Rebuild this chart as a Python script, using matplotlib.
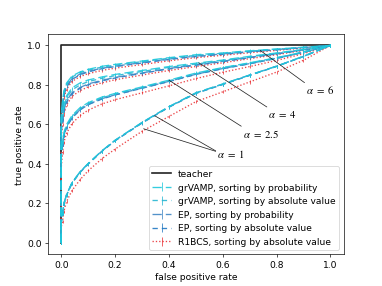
import numpy as np
import matplotlib.pyplot as plt

plt.rcParams['mathtext.fontset'] = 'stix'
plt.rcParams['font.size'] = 11

# false positive rate grid shared by all curves
fpr = [0, 0, 0.005, 0.01, 0.02, 0.04, 0.07, 0.1, 0.15, 0.2, 0.3, 0.4, 0.5, 0.6, 0.7, 0.8, 0.9, 1.0]

teacher_fpr = [0, 0, 1]
teacher_tpr = [0, 1, 1]

# alpha = 6
grvamp_prob_6 = [0, 0.65, 0.72, 0.77, 0.81, 0.845, 0.866, 0.879, 0.894, 0.904, 0.921, 0.938, 0.953, 0.962, 0.973, 0.982, 0.991, 1]
grvamp_abs_6  = [0, 0.64, 0.71, 0.765, 0.805, 0.84, 0.862, 0.875, 0.89, 0.9, 0.918, 0.935, 0.95, 0.96, 0.971, 0.981, 0.99, 1]
ep_prob_6     = [0, 0.63, 0.7, 0.755, 0.795, 0.832, 0.855, 0.869, 0.884, 0.895, 0.913, 0.931, 0.946, 0.957, 0.969, 0.979, 0.989, 1]
ep_abs_6      = [0, 0.62, 0.695, 0.75, 0.79, 0.828, 0.851, 0.866, 0.882, 0.893, 0.911, 0.929, 0.944, 0.955, 0.967, 0.978, 0.989, 1]
r1bcs_6       = [0, 0.6, 0.68, 0.735, 0.778, 0.818, 0.842, 0.857, 0.873, 0.885, 0.903, 0.922, 0.938, 0.95, 0.963, 0.975, 0.987, 1]

# alpha = 4
grvamp_prob_4 = [0, 0.6, 0.66, 0.7, 0.745, 0.785, 0.81, 0.825, 0.84, 0.853, 0.873, 0.893, 0.91, 0.926, 0.945, 0.962, 0.98, 1]
grvamp_abs_4  = [0, 0.59, 0.65, 0.69, 0.735, 0.775, 0.8, 0.817, 0.833, 0.847, 0.868, 0.889, 0.906, 0.923, 0.942, 0.96, 0.979, 1]
ep_prob_4     = [0, 0.57, 0.63, 0.675, 0.72, 0.76, 0.787, 0.805, 0.823, 0.838, 0.861, 0.883, 0.902, 0.92, 0.94, 0.958, 0.978, 1]
ep_abs_4      = [0, 0.56, 0.62, 0.668, 0.714, 0.755, 0.783, 0.801, 0.82, 0.835, 0.859, 0.881, 0.9, 0.918, 0.938, 0.957, 0.977, 1]
r1bcs_4       = [0, 0.53, 0.6, 0.65, 0.698, 0.742, 0.771, 0.79, 0.81, 0.826, 0.85, 0.873, 0.893, 0.912, 0.933, 0.953, 0.975, 1]

# alpha = 2.5
grvamp_prob_25 = [0, 0.45, 0.52, 0.56, 0.6, 0.645, 0.685, 0.71, 0.738, 0.757, 0.79, 0.824, 0.86, 0.888, 0.912, 0.938, 0.967, 1]
grvamp_abs_25  = [0, 0.44, 0.51, 0.552, 0.594, 0.64, 0.68, 0.706, 0.734, 0.754, 0.787, 0.821, 0.857, 0.886, 0.91, 0.937, 0.966, 1]
ep_prob_25     = [0, 0.43, 0.5, 0.545, 0.588, 0.634, 0.675, 0.701, 0.73, 0.75, 0.784, 0.818, 0.854, 0.883, 0.908, 0.935, 0.965, 1]
ep_abs_25      = [0, 0.43, 0.5, 0.543, 0.586, 0.632, 0.673, 0.7, 0.728, 0.749, 0.783, 0.817, 0.853, 0.882, 0.907, 0.934, 0.965, 1]
r1bcs_25       = [0, 0.38, 0.46, 0.51, 0.556, 0.604, 0.645, 0.672, 0.703, 0.725, 0.76, 0.795, 0.832, 0.864, 0.893, 0.924, 0.958, 1]

# alpha = 1
grvamp_prob_1 = [0, 0.1, 0.15, 0.2, 0.245, 0.305, 0.36, 0.402, 0.465, 0.52, 0.61, 0.69, 0.76, 0.805, 0.85, 0.895, 0.945, 1]
grvamp_abs_1  = [0, 0.1, 0.148, 0.198, 0.243, 0.303, 0.358, 0.4, 0.463, 0.518, 0.608, 0.688, 0.758, 0.803, 0.849, 0.894, 0.944, 1]
ep_prob_1     = [0, 0.1, 0.149, 0.199, 0.244, 0.304, 0.359, 0.401, 0.464, 0.519, 0.609, 0.689, 0.759, 0.804, 0.85, 0.895, 0.945, 1]
ep_abs_1      = [0, 0.1, 0.147, 0.197, 0.242, 0.302, 0.357, 0.399, 0.462, 0.517, 0.607, 0.687, 0.757, 0.802, 0.848, 0.894, 0.944, 1]
r1bcs_1       = [0, 0.08, 0.11, 0.16, 0.21, 0.265, 0.32, 0.365, 0.425, 0.475, 0.565, 0.64, 0.715, 0.765, 0.815, 0.865, 0.925, 1]

# spread over runs, one value per alpha
err = [0.007, 0.007, 0.008, 0.008]

curves = [
    [grvamp_prob_6, grvamp_abs_6, ep_prob_6, ep_abs_6, r1bcs_6],
    [grvamp_prob_4, grvamp_abs_4, ep_prob_4, ep_abs_4, r1bcs_4],
    [grvamp_prob_25, grvamp_abs_25, ep_prob_25, ep_abs_25, r1bcs_25],
    [grvamp_prob_1, grvamp_abs_1, ep_prob_1, ep_abs_1, r1bcs_1],
]

labels = ["grVAMP, sorting by probability", "grVAMP, sorting by absolute value",
          "EP, sorting by probability", "EP, sorting by absolute value",
          "R1BCS, sorting by absolute value"]
colors = ["#1ec8dc", "#27b6d2", "#3f86c4", "#2178c2", "#e8262a"]
styles = [(0, (7, 3)), (0, (4, 3)), (0, (7, 3)), (0, (4, 3)), (0, (1, 1.5))]
zord = [4, 3.5, 3, 2.8, 2.5]

fig = plt.figure(figsize=(6.4, 4.8), dpi=59.7)
ax = fig.add_subplot(111)

ax.plot(teacher_fpr, teacher_tpr, color="#222222", lw=2, label="teacher")

for i, group in enumerate(curves):
    for j, tpr in enumerate(group):
        lab = labels[j] if i == 0 else None
        ax.errorbar(fpr, tpr, yerr=err[i], color=colors[j], ls=styles[j], lw=1.6,
                    elinewidth=1.0, capsize=0, label=lab, zorder=zord[j],
                    alpha=0.9 if j < 4 else 0.85)

arrow = dict(arrowstyle="-", color="#222222", lw=0.9, shrinkA=0, shrinkB=0)
ax.annotate(r"$\alpha\ =\ 6$", xy=(0.739, 0.975), xytext=(0.91, 0.775), fontsize=13,
            arrowprops=dict(arrow, relpos=(0, 1)), va="center", zorder=5)
ax.annotate(r"$\alpha\ =\ 4$", xy=(0.511, 0.912), xytext=(0.77, 0.655), fontsize=13,
            arrowprops=dict(arrow, relpos=(0, 1)), va="center", zorder=5)
ax.annotate(r"$\alpha\ =\ 2.5$", xy=(0.4, 0.824), xytext=(0.675, 0.555), fontsize=13,
            arrowprops=dict(arrow, relpos=(0, 1)), va="center", zorder=5)
ax.annotate(r"$\alpha\ =\ 1$", xy=(0.347, 0.644), xytext=(0.58, 0.455), fontsize=13,
            arrowprops=dict(arrow, relpos=(0, 0.6)), va="center", zorder=5)
ax.annotate(r"$\alpha\ =\ 1$", xy=(0.306, 0.578), xytext=(0.58, 0.455), fontsize=13, alpha=0,
            arrowprops=dict(arrow, relpos=(0, 0.6)), va="center", zorder=5)

ax.set_xlabel("false positive rate")
ax.set_ylabel("true positive rate")
ax.legend(loc="lower right")

plt.savefig("out.png")
